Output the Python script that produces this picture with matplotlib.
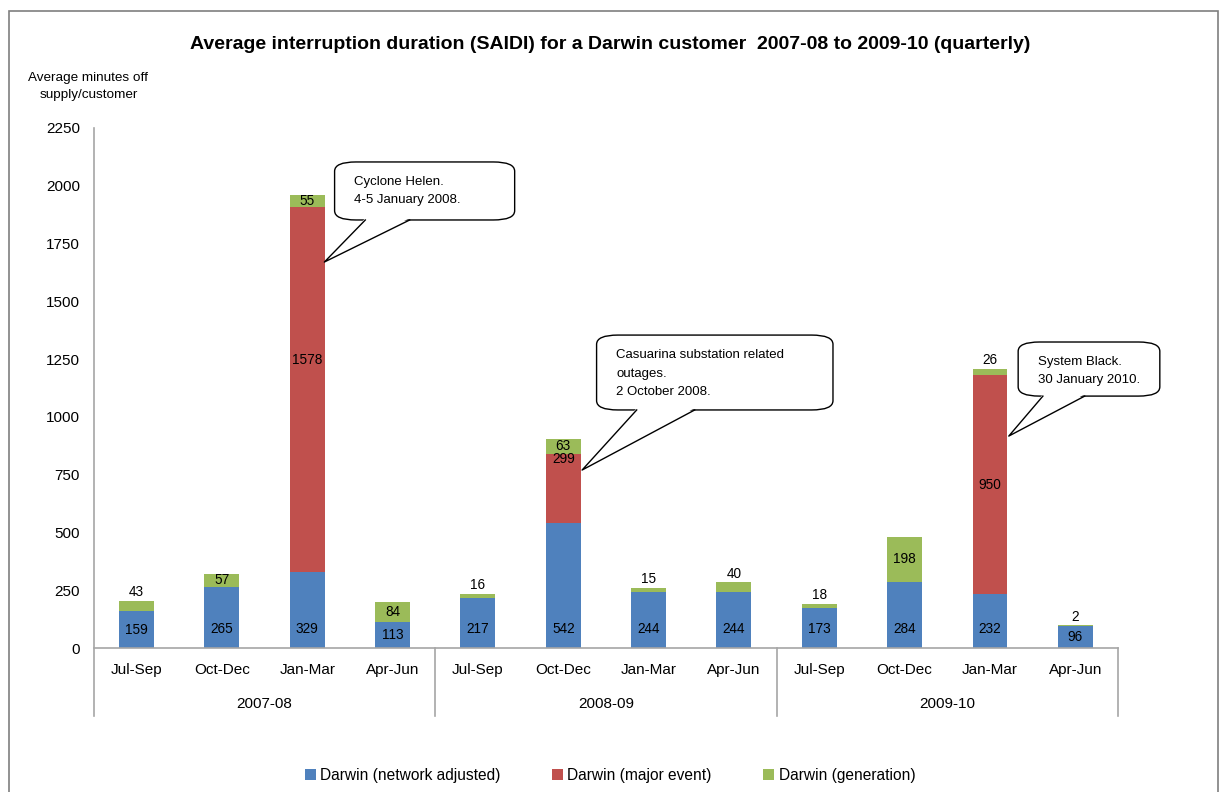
import numpy as np
import matplotlib.pyplot as plt
from matplotlib.patches import FancyBboxPatch, Polygon, Rectangle

plt.rcParams['font.family'] = ['Liberation Sans', 'DejaVu Sans']

# data
quarters = ["Jul-Sep", "Oct-Dec", "Jan-Mar", "Apr-Jun"] * 3
years = ["2007-08", "2008-09", "2009-10"]
network = [159, 265, 329, 113, 217, 542, 244, 244, 173, 284, 232, 96]
major = [0, 0, 1578, 0, 0, 299, 0, 0, 0, 0, 950, 0]
generation = [43, 57, 55, 84, 16, 63, 15, 40, 18, 198, 26, 2]

blue = '#4F81BD'
red = '#C0504D'
green = '#9BBB59'
grey = '#A6A6A6'

fig = plt.figure(figsize=(12.2, 7.92), dpi=100)
ax = fig.add_axes([0.077, 0.1818, 0.8394, 0.6566])

x = np.arange(len(network))
net = np.array(network)
maj = np.array(major)
gen = np.array(generation)
w = 0.41

ax.bar(x, net, w, color=blue, label="Darwin (network adjusted)")
ax.bar(x, maj, w, bottom=net, color=red, label="Darwin (major event)")
ax.bar(x, gen, w, bottom=net + maj, color=green, label="Darwin (generation)")

# value labels
fs = 9.8
for i in range(len(x)):
    ax.text(x[i], min(net[i] / 2, 82), str(net[i]), ha='center', va='center', fontsize=fs)
    if maj[i] > 0:
        yl = net[i] + maj[i] / 2
        if maj[i] > 1200:
            yl = net[i] + maj[i] * 0.58
        if maj[i] < 400:
            yl = net[i] + maj[i] * 0.92
        ax.text(x[i], yl, str(maj[i]), ha='center', va='center', fontsize=fs)
    top = net[i] + maj[i]
    if gen[i] >= 50:
        ax.text(x[i], top + gen[i] / 2, str(gen[i]), ha='center', va='center', fontsize=fs)
    else:
        ax.text(x[i], top + gen[i] + 8, str(gen[i]), ha='center', va='bottom', fontsize=fs)

ax.set_xlim(-0.5, 11.5)
ax.set_ylim(0, 2250)
ax.set_yticks(np.arange(0, 2251, 250))
ax.tick_params(axis='y', length=0, labelsize=11, pad=10)
ax.set_xticks([])
for s in ['top', 'right', 'bottom', 'left']:
    ax.spines[s].set_visible(False)

# axis lines and category separators
ax.axhline(0, color=grey, lw=1.2, clip_on=False)
for b in [-0.5, 3.5, 7.5, 11.5]:
    ax.plot([b, b], [-295, 2250 if b == -0.5 else 0], color=grey, lw=1.2, clip_on=False)
for i, q in enumerate(quarters):
    ax.text(x[i], -95, q, ha='center', va='center', fontsize=11)
for j, yr in enumerate(years):
    ax.text(4 * j + 1.5, -243, yr, ha='center', va='center', fontsize=11)


def callout(x0, y0, x1, y1, b0, b1, tip, lines):
    box = FancyBboxPatch((x0, y0), x1 - x0, y1 - y0,
                         boxstyle="round,pad=0,rounding_size=0.25",
                         mutation_aspect=160, fc='white', ec='black', lw=1, clip_on=False, zorder=5)
    ax.add_patch(box)
    tail = Polygon([(b0, y0 + 8), tip, (b1, y0 + 8)], closed=True, fc='white', ec='none',
                   clip_on=False, zorder=6)
    ax.add_patch(tail)
    ax.plot([b0, tip[0], b1], [y0, tip[1], y0], color='black', lw=1, clip_on=False, zorder=7)
    ax.text(x0 + 0.23, y1 - 62, "\n".join(lines), ha='left', va='top', fontsize=9.5,
            linespacing=1.68, zorder=8)


callout(2.32, 1852, 4.43, 2103, 2.68, 3.20, (2.20, 1670),
        ["Cyclone Helen.", "4-5 January 2008."])
callout(5.39, 1030, 8.16, 1354, 5.86, 6.54, (5.22, 770),
        ["Casuarina substation related", "outages.", "2 October 2008."])
callout(10.33, 1090, 11.99, 1324, 10.62, 11.11, (10.22, 917),
        ["System Black.", "30 January 2010."])

fig.text(0.5, 0.944, "Average interruption duration (SAIDI) for a Darwin customer  2007-08 to 2009-10 (quarterly)",
         ha='center', va='center', fontsize=14, fontweight='bold')
fig.text(0.0725, 0.891, "Average minutes off\nsupply/customer", ha='center', va='center', fontsize=9.7,
         linespacing=1.6)

fig.legend(loc='center', bbox_to_anchor=(0.5, 0.021), ncol=3, frameon=False, fontsize=11.2,
           handlelength=0.7, handleheight=0.7, handletextpad=0.3, columnspacing=3.3)

fig.patches.append(Rectangle((0.0074, -0.05), 0.9906, 1.036, transform=fig.transFigure,
                             fill=False, ec='#7F7F7F', lw=1.2))

fig.savefig("out.png", dpi=100)
